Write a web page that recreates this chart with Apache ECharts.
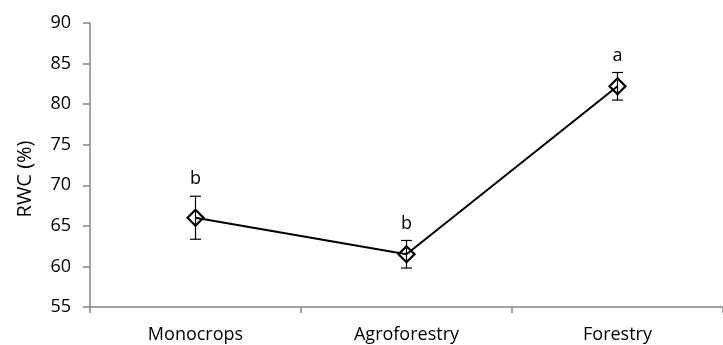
<!DOCTYPE html>
<html>
<head>
<meta charset="utf-8">
<script src="https://cdn.jsdelivr.net/npm/echarts@6/dist/echarts.min.js"></script>
<style>
  html, body { margin: 0; padding: 0; background: #fff; }
  #chart { width: 723px; height: 345px; }
</style>
</head>
<body>
<div id="chart"></div>
<script>
// Relative water content by land use
var categories = ['Monocrops', 'Agroforestry', 'Forestry'];
var rwcMean = [66.0, 61.5, 82.2];
var rwcError = [2.65, 1.7, 1.7];
var groupLetters = ['b', 'b', 'a'];

var FONT = '"Open Sans", sans-serif';
var AXIS_GRAY = '#868686';

var errorData = categories.map(function (c, i) {
  return [i, rwcMean[i] - rwcError[i], rwcMean[i] + rwcError[i], groupLetters[i]];
});

var chart = echarts.init(document.getElementById('chart'), null, { renderer: 'canvas' });

chart.setOption({
  animation: false,
  backgroundColor: '#fff',
  grid: { left: 90, top: 23, width: 643.5, height: 284, containLabel: false },
  xAxis: {
    type: 'category',
    data: categories,
    boundaryGap: true,
    axisLine: { lineStyle: { color: AXIS_GRAY, width: 1.5 } },
    axisTick: { show: true, length: 6, alignWithLabel: false, lineStyle: { color: AXIS_GRAY, width: 1.5 } },
    axisLabel: { color: '#000', fontFamily: FONT, fontSize: 18, margin: 19 },
    splitLine: { show: false }
  },
  yAxis: {
    type: 'value',
    min: 55,
    max: 90,
    interval: 5,
    axisLine: { show: true, lineStyle: { color: AXIS_GRAY, width: 1.5 } },
    axisTick: { show: true, length: 7, lineStyle: { color: AXIS_GRAY, width: 1.5 } },
    axisLabel: { color: '#000', fontFamily: FONT, fontSize: 18, margin: 19 },
    splitLine: { show: false }
  },
  graphic: [{
    type: 'text',
    x: 25,
    y: 179,
    rotation: Math.PI / 2,
    style: {
      text: 'RWC (%)',
      fill: '#000',
      font: '20px ' + FONT,
      align: 'center',
      verticalAlign: 'middle'
    }
  }],
  series: [
    {
      type: 'line',
      data: rwcMean,
      z: 2,
      symbol: 'diamond',
      symbolSize: 16,
      lineStyle: { color: '#000', width: 2 },
      itemStyle: { color: 'rgba(255,255,255,0)', borderColor: '#000', borderWidth: 2.2 }
    },
    {
      type: 'custom',
      z: 3,
      data: errorData,
      renderItem: function (params, api) {
        var x = api.value(0);
        var lo = api.coord([x, api.value(1)]);
        var hi = api.coord([x, api.value(2)]);
        var cap = 5.5;
        var lineStyle = { stroke: '#000', lineWidth: 1.2 };
        return {
          type: 'group',
          children: [
            { type: 'line', shape: { x1: hi[0], y1: hi[1], x2: lo[0], y2: lo[1] }, style: lineStyle },
            { type: 'line', shape: { x1: hi[0] - cap, y1: hi[1], x2: hi[0] + cap, y2: hi[1] }, style: lineStyle },
            { type: 'line', shape: { x1: lo[0] - cap, y1: lo[1], x2: lo[0] + cap, y2: lo[1] }, style: lineStyle },
            {
              type: 'text',
              x: hi[0],
              y: hi[1] - 8,
              style: {
                text: api.value(3),
                fill: '#000',
                font: '18px ' + FONT,
                align: 'center',
                verticalAlign: 'bottom'
              }
            }
          ]
        };
      }
    }
  ]
});
</script>
</body>
</html>
